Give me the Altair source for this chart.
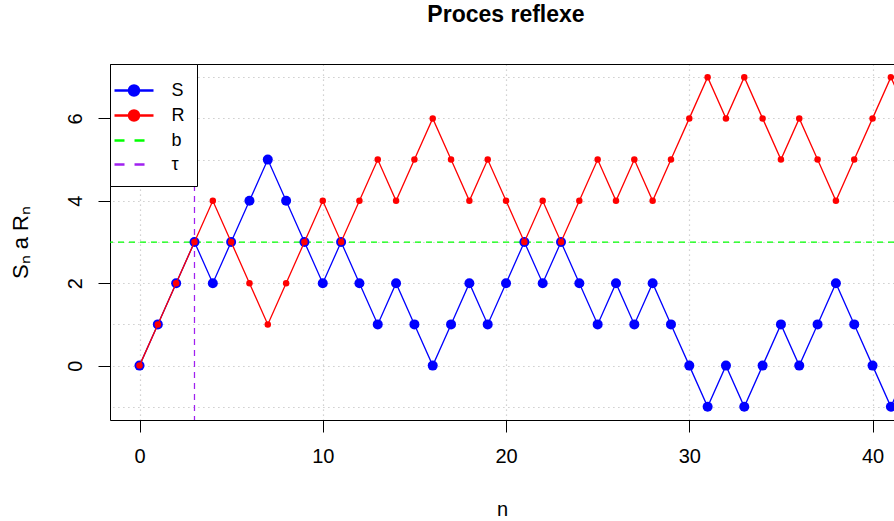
import altair as alt
import pandas as pd

# ---- data ----
n_vals = list(range(43))
S_vals = [0, 1, 2, 3, 2, 3, 4, 5, 4, 3,
          2, 3, 2, 1, 2, 1, 0, 1, 2, 1,
          2, 3, 2, 3, 2, 1, 2, 1, 2, 1,
          0, -1, 0, -1, 0, 1, 0, 1, 2, 1,
          0, -1, 0]
R_vals = [0, 1, 2, 3, 4, 3, 2, 1, 2, 3,
          4, 3, 4, 5, 4, 5, 6, 5, 4, 5,
          4, 3, 4, 3, 4, 5, 4, 5, 4, 5,
          6, 7, 6, 7, 6, 5, 6, 5, 4, 5,
          6, 7, 6]
b_val = [3]
tau_val = [3]
series_names = ["S", "R", "b", "τ"]
series_colors = ["#0000FF", "#FF0000", "#00FF00", "#A020F0"]
x_ticks = [0, 10, 20, 30, 40]
y_ticks = [0, 2, 4, 6]
y_grid = [-1, 0, 1, 2, 3, 4, 5, 6, 7]

FONT = "Liberation Sans"

df = pd.DataFrame({"n": n_vals, "S": S_vals, "R": R_vals})
b_df = pd.DataFrame({"b": b_val})
tau_df = pd.DataFrame({"tau": tau_val})
leg_df = pd.DataFrame({"series": series_names})

x_scale = alt.Scale(domain=[-1.61, 41.17], nice=False, zero=False)
y_scale = alt.Scale(domain=[-1.32, 7.32], nice=False, zero=False)

GRID = dict(grid=True, gridColor="#c4c4c4", gridDash=[1.25, 3.75], gridWidth=1.2)

bottom_axis = alt.Axis(
    orient="bottom", values=x_ticks, **GRID,
    domainColor="black", domainWidth=1, tickColor="black", tickSize=12, tickWidth=1,
    labelFont=FONT, labelFontSize=20, labelColor="black", labelPadding=14,
    title="n", titleFont=FONT, titleFontSize=20, titleFontWeight="normal",
    titleColor="black", titleBaseline="alphabetic", titleY=95,
)
left_axis = alt.Axis(
    orient="left", values=y_ticks, grid=False,
    domainColor="black", domainWidth=1, tickColor="black", tickSize=12, tickWidth=1,
    labelFont=FONT, labelFontSize=20, labelColor="black", labelAngle=270,
    labelAlign="center", labelBaseline="alphabetic", labelPadding=17,
    title="Sₙ a Rₙ", titleFont=FONT, titleFontSize=22, titleFontWeight="normal",
    titleColor="black", titleAngle=270, titleAlign="center", titleBaseline="alphabetic",
    titleX=-83, titleY=178,
)
top_axis = alt.Axis(orient="top", grid=False, ticks=False, labels=False, title=None,
                    domainColor="black", domainWidth=1)
right_axis = alt.Axis(orient="right", values=y_grid, **GRID, ticks=False, labels=False,
                      domain=False, title=None)

b_rule = alt.Chart(b_df).mark_rule(color="#00FF00", strokeDash=[6, 5], strokeWidth=1.25).encode(
    y=alt.Y("b:Q", scale=y_scale, axis=None)
)
tau_rule = alt.Chart(tau_df).mark_rule(color="#A020F0", strokeDash=[6, 5], strokeWidth=1.25).encode(
    x=alt.X("tau:Q", scale=x_scale, axis=None)
)

s_line = alt.Chart(df).mark_line(color="#0000FF", strokeWidth=1.3, clip=True).encode(
    x=alt.X("n:Q", scale=x_scale, axis=bottom_axis),
    y=alt.Y("S:Q", scale=y_scale, axis=left_axis),
)
s_pts = alt.Chart(df).mark_circle(color="#0000FF", size=100, opacity=1, clip=True).encode(
    x=alt.X("n:Q", scale=x_scale, axis=None),
    y=alt.Y("S:Q", scale=y_scale, axis=None),
)
r_line = alt.Chart(df).mark_line(color="#FF0000", strokeWidth=1.3, clip=True).encode(
    x=alt.X("n:Q", scale=x_scale, axis=top_axis),
    y=alt.Y("R:Q", scale=y_scale, axis=right_axis),
)
r_pts = alt.Chart(df).mark_circle(color="#FF0000", size=42, opacity=1, clip=True).encode(
    x=alt.X("n:Q", scale=x_scale, axis=None),
    y=alt.Y("R:Q", scale=y_scale, axis=None),
)

# legend symbols: line with dot (S, R), dashed line (b, tau); unit = 13 px
k = 0.5523
r = 0.385
dot = (f"M{r},0C{r},{k*r:.3f},{k*r:.3f},{r},0,{r}C{-k*r:.3f},{r},{-r},{k*r:.3f},{-r},0"
       f"C{-r},{-k*r:.3f},{-k*r:.3f},{-r},0,{-r}C{k*r:.3f},{-r},{r},{-k*r:.3f},{r},0Z")
line_dot = "M-1.5,0H1.5" + dot
dashed = "M-1.5,0H-0.73M0.04,0H0.81"
shape_paths = [line_dot, line_dot, dashed, dashed]

leg = alt.Legend(
    title=None, orient="none", legendX=0, legendY=0, padding=12,
    fillColor="white", strokeColor="black",
    symbolSize=676, symbolStrokeWidth=2.5, symbolOpacity=1, symbolOffset=-2.5,
    labelFont=FONT, labelFontSize=18, labelColor="black", labelOffset=23,
    rowPadding=0,
)
legend_layer = alt.Chart(leg_df).transform_filter("false").mark_point(
    filled=True, opacity=1, strokeWidth=2.5
).encode(
    shape=alt.Shape("series:N", scale=alt.Scale(domain=series_names, range=shape_paths), legend=leg),
    fill=alt.Fill("series:N", scale=alt.Scale(domain=series_names, range=series_colors), legend=leg),
    stroke=alt.Stroke("series:N", scale=alt.Scale(domain=series_names, range=series_colors), legend=leg),
)

chart = alt.layer(
    b_rule, tau_rule, s_line, s_pts, r_line, r_pts, legend_layer
).resolve_axis(
    x="independent", y="independent"
).properties(
    width=784, height=356,
    title=alt.TitleParams("Proces reflexe", font=FONT, fontSize=23, fontWeight="bold",
                          color="black", anchor="middle", baseline="alphabetic",
                          offset=18, dx=4),
    autosize=alt.AutoSizeParams(type="none"),
    padding={"left": 110, "top": 64, "right": 0, "bottom": 101},
).configure_view(stroke=None).configure_legend(strokeWidth=1.2).configure(background="white")

chart.save("out.html", embed_options={"renderer": "svg", "actions": False})
